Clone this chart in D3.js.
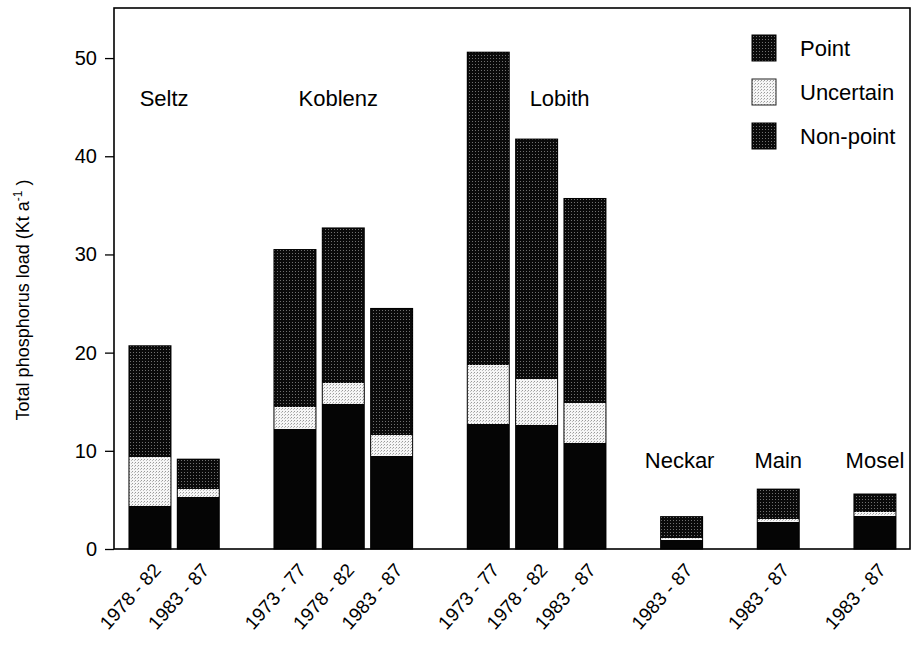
<!DOCTYPE html>
<html>
<head>
<meta charset="utf-8">
<script src="https://cdn.jsdelivr.net/npm/d3@7"></script>
<style>
  html, body { margin: 0; padding: 0; background: #fff; }
  svg { display: block; font-family: "Liberation Sans", Arial, Helvetica, sans-serif; }
</style>
</head>
<body>
<svg id="chart" width="913" height="647"></svg>
<script>
// Total phosphorus load by station and period (Kt per year)
const stations  = ["Seltz", "Seltz", "Koblenz", "Koblenz", "Koblenz", "Lobith", "Lobith", "Lobith", "Neckar", "Main", "Mosel"];
const periods   = ["1978 - 82", "1983 - 87", "1973 - 77", "1978 - 82", "1983 - 87", "1973 - 77", "1978 - 82", "1983 - 87", "1983 - 87", "1983 - 87", "1983 - 87"];
const nonPoint  = [4.4, 5.3, 12.2, 14.8, 9.5, 12.7, 12.6, 10.8, 0.95, 2.75, 3.4];
const uncertain = [5.0, 0.8, 2.3, 2.1, 2.1, 6.0, 4.7, 4.1, 0.2, 0.35, 0.4];
const point     = [11.3, 3.05, 16.0, 15.8, 12.9, 31.9, 24.45, 20.8, 2.15, 3.0, 1.8];

const yTicks = [0, 10, 20, 30, 40, 50];
const legendItems = ["Point", "Uncertain", "Non-point"];

const svg = d3.select("#chart");
const frame = { left: 114, top: 8, right: 910, bottom: 549 };

// Each station group is followed by one empty slot on the axis
const slots = [];
let slot = 0;
stations.forEach((s, i) => {
  if (i > 0 && s !== stations[i - 1]) slot += 1;
  slots.push(slot);
  slot += 1;
});
const nSlots = slot;

const rows = stations.map((s, i) => ({
  station: s, period: periods[i], slot: slots[i],
  nonPoint: nonPoint[i], uncertain: uncertain[i], point: point[i]
}));

const x = d3.scaleBand()
  .domain(d3.range(nSlots))
  .range([125.8, 899.1])
  .paddingInner(0.131)
  .paddingOuter(0.0655);

const y = d3.scaleLinear().domain([0, 55.1]).range([frame.bottom, frame.top]);

// Stipple patterns
const defs = svg.append("defs");
const pPoint = defs.append("pattern").attr("id", "stipDark")
  .attr("patternUnits", "userSpaceOnUse").attr("width", 3).attr("height", 3);
pPoint.append("rect").attr("width", 3).attr("height", 3).attr("fill", "#0a0a0a");
pPoint.append("rect").attr("x", 1).attr("y", 1).attr("width", 1).attr("height", 1).attr("fill", "#707070");

const pUnc = defs.append("pattern").attr("id", "stipLight")
  .attr("patternUnits", "userSpaceOnUse").attr("width", 3).attr("height", 3);
pUnc.append("rect").attr("width", 3).attr("height", 3).attr("fill", "#f6f6f6");
pUnc.append("rect").attr("x", 0).attr("y", 0).attr("width", 1).attr("height", 1).attr("fill", "#9a9a9a");
pUnc.append("rect").attr("x", 2).attr("y", 1).attr("width", 1).attr("height", 1).attr("fill", "#bdbdbd");

const fills = { nonPoint: "#050505", uncertain: "url(#stipLight)", point: "url(#stipDark)" };

const stack = d3.stack().keys(["nonPoint", "uncertain", "point"]);
const series = stack(rows);

svg.append("g").selectAll("g")
  .data(series)
  .join("g")
  .attr("fill", d => fills[d.key])
  .selectAll("rect")
  .data(d => d)
  .join("rect")
  .attr("x", d => x(d.data.slot))
  .attr("width", x.bandwidth())
  .attr("y", d => y(d[1]))
  .attr("height", d => y(d[0]) - y(d[1]))
  .attr("shape-rendering", "crispEdges");

// Bar outlines
svg.append("g").selectAll("rect")
  .data(rows)
  .join("rect")
  .attr("x", d => x(d.slot))
  .attr("width", x.bandwidth())
  .attr("y", d => y(d.nonPoint + d.uncertain + d.point))
  .attr("height", d => y(0) - y(d.nonPoint + d.uncertain + d.point))
  .attr("fill", "none")
  .attr("stroke", "#000")
  .attr("stroke-width", 1);

// Frame
svg.append("rect")
  .attr("x", frame.left).attr("y", frame.top)
  .attr("width", frame.right - frame.left).attr("height", frame.bottom - frame.top)
  .attr("fill", "none").attr("stroke", "#000").attr("stroke-width", 1.6);

// Y axis
const yAxis = svg.append("g")
  .attr("transform", `translate(${frame.left},0)`)
  .call(d3.axisLeft(y).tickValues(yTicks).tickSize(9).tickPadding(8));
yAxis.select(".domain").remove();
yAxis.selectAll("line").attr("stroke", "#000").attr("stroke-width", 1.3);
yAxis.selectAll("text").attr("font-size", 20).attr("fill", "#000")
  .attr("font-family", "Liberation Sans, Arial, sans-serif");

// Y axis title
const yTitle = svg.append("text")
  .attr("transform", "translate(29,300) rotate(-90)")
  .attr("text-anchor", "middle")
  .attr("font-size", 18)
  .attr("fill", "#000");
yTitle.append("tspan").text("Total phosphorus load (Kt a");
yTitle.append("tspan").attr("font-size", 12).attr("dy", -7).text("-1");
yTitle.append("tspan").attr("dy", 7).text(" )");

// X labels, rotated
svg.append("g").selectAll("text")
  .data(rows)
  .join("text")
  .attr("transform", d => `translate(${x(d.slot) + x.bandwidth() / 2 + 12},${frame.bottom + 22}) rotate(-48)`)
  .attr("text-anchor", "end")
  .attr("font-size", 19)
  .attr("fill", "#000")
  .text(d => d.period);

// Station names
const stationNames = ["Seltz", "Koblenz", "Lobith", "Neckar", "Main", "Mosel"];
const nameLevel = [45.1, 45.1, 45.1, 8.25, 8.25, 8.25];
const nameShift = [-10, -5, 23, -2, 0, 0];
stationNames.forEach((s, i) => {
  const members = rows.filter(r => r.station === s);
  const x0 = x(members[0].slot);
  const x1 = x(members[members.length - 1].slot) + x.bandwidth();
  svg.append("text")
    .attr("x", (x0 + x1) / 2 + nameShift[i])
    .attr("y", y(nameLevel[i]))
    .attr("text-anchor", "middle")
    .attr("font-size", 22)
    .attr("fill", "#000")
    .text(s);
});

// Legend
const legendFill = ["url(#stipDark)", "url(#stipLight)", "url(#stipDark)"];
const lg = svg.append("g").attr("transform", "translate(752,35)");
legendItems.forEach((name, i) => {
  lg.append("rect")
    .attr("x", 0).attr("y", i * 44)
    .attr("width", 24).attr("height", 26)
    .attr("fill", legendFill[i])
    .attr("stroke", i === 1 ? "#222" : "#000")
    .attr("stroke-width", 1);
  lg.append("text")
    .attr("x", 48).attr("y", i * 44 + 21)
    .attr("font-size", 22)
    .attr("fill", "#000")
    .text(name);
});
</script>
</body>
</html>
